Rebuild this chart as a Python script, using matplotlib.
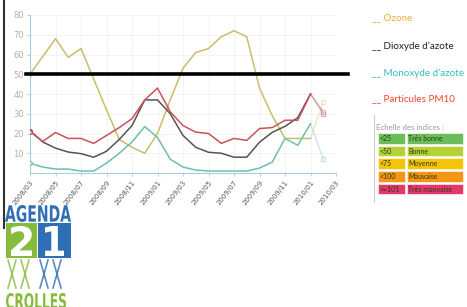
import matplotlib
matplotlib.use("Agg")
import matplotlib.pyplot as plt
from matplotlib.patches import Rectangle, PathPatch
from matplotlib.textpath import TextPath
from matplotlib.font_manager import FontProperties
from matplotlib.transforms import Affine2D

# ---------------- data ----------------
months = ["2008/03", "2008/04", "2008/05", "2008/06", "2008/07", "2008/08", "2008/09",
          "2008/10", "2008/11", "2008/12", "2009/01", "2009/02", "2009/03", "2009/04",
          "2009/05", "2009/06", "2009/07", "2009/08", "2009/09", "2009/10", "2009/11",
          "2009/12", "2010/01", "2010/02", "2010/03"]
tick_labels = months[::2]

ozone = [50, 59, 68, 58.5, 63, 47.5, 32, 17, 13, 10, 20, 37, 53, 61, 63, 69, 72, 69,
         43, 29, 17.5, 17.5, 17.5, 36]
no2 = [21.5, 15.7, 12.6, 10.6, 9.8, 8, 11, 17, 24, 37, 37, 30, 19, 13, 10.5, 10, 8, 8,
       15.6, 20.6, 23.6, 28, 40, 30]
no = [5, 3, 2, 2, 1, 1, 5, 10, 15.7, 23.5, 18, 7, 3, 1.5, 1, 1, 1, 1, 2.5, 5.5, 17.5,
      14, 25, 7]
pm10 = [21, 16, 20.5, 17.5, 17.5, 15, 19, 23, 27.5, 37, 43, 31, 24, 20.7, 20, 15, 17.5,
        16.5, 22.5, 23, 26.7, 26.7, 40, 31]

series_names = ["Ozone", "Dioxyde d\u2019azote", "Monoxyde d\u2019azote", "Particules PM10"]
series_values = [ozone, no2, no, pm10]
line_colors = ["#c9be6c", "#5a5252", "#6fc0a6", "#c9525c"]
legend_colors = ["#e3b43a", "#222222", "#35bfc0", "#f0462a"]

threshold = 50
y_ticks = [10, 20, 30, 40, 50, 60, 70, 80]

scale_limits = ["<25", "<50", "<75", "<100", ">=101"]
scale_labels = ["Tr\u00e8s bonne", "Bonne", "Moyenne", "Mauvaise", "Tr\u00e8s mauvaise"]
scale_colors = ["#6cbd5a", "#b4d236", "#f4c30a", "#f39516", "#e4386a"]

# ---------------- figure ----------------
W, H = 467, 307
fig = plt.figure(figsize=(W / 100, H / 100), dpi=100)
fig.patch.set_facecolor("white")

ax = fig.add_axes([30 / W, 1 - 173 / H, 306 / W, 158 / H])
ax.set_facecolor("none")
n_final = len(ozone) - 1  # last (partial) month drawn faded
x = list(range(len(ozone)))
for vals, col in zip(series_values, line_colors):
    ax.plot(x[:n_final], vals[:n_final], color=col, lw=1.1, zorder=3)
    ax.plot(x[n_final - 1:], vals[n_final - 1:], color=col, lw=1.0, alpha=0.35, zorder=3,
            marker="s", markersize=2.5, markerfacecolor="white", markevery=[1])
    ax.plot([x[0]], [vals[0]], marker="o", markersize=2.5, color=col,
            markerfacecolor="white", lw=0, zorder=4)

ax.axhline(threshold, xmin=-0.012, xmax=1.04, color="black", lw=2.6, clip_on=False, zorder=5)

ax.set_xlim(0, len(months) - 1)
ax.set_ylim(0, 80)
ax.set_xticks(range(0, len(months), 2))
ax.set_xticklabels(tick_labels, rotation=52, ha="right", rotation_mode="anchor",
                   fontsize=5, color="#555555")
ax.set_yticks(y_ticks)
ax.set_yticklabels([str(v) for v in y_ticks], fontsize=6, color="#b0b0b0")
ax.tick_params(axis="both", length=2.5, width=0.6, color="#a9cde0", pad=2)
ax.grid(True, color="#eeeeee", lw=0.5)
ax.set_axisbelow(True)
for s in ["top", "right"]:
    ax.spines[s].set_visible(False)
for s in ["left", "bottom"]:
    ax.spines[s].set_color("#a9cde0")
    ax.spines[s].set_linewidth(0.8)

# ---------------- overlay in pixel coordinates ----------------
ov = fig.add_axes([0, 0, 1, 1], zorder=10)
ov.set_xlim(0, W)
ov.set_ylim(H, 0)
ov.axis("off")
ov.patch.set_alpha(0)

# left dark frame line
ov.plot([4, 4], [0, 228], color="#333333", lw=1.5)

# legend
leg_y = [18, 46, 73, 99]
for name, col, yy in zip(series_names, legend_colors, leg_y):
    ov.text(372, yy, "__ " + name, color=col, fontsize=7.1, family="Lato",
            va="center", ha="left")

# scale table
ov.plot([374, 374], [115, 202], color="#cccccc", lw=0.8)
ov.text(376, 127, "Echelle des indices :", color="#9a9a9a", fontsize=5.6,
        family="Lato", va="center", ha="left")
row_top = 133
for i, (lim, lab, col) in enumerate(zip(scale_limits, scale_labels, scale_colors)):
    yy = row_top + i * 12.7
    ov.add_patch(Rectangle((377.5, yy), 27, 10.5, facecolor=col, edgecolor="white", lw=0.4))
    ov.add_patch(Rectangle((406.5, yy), 56, 10.5, facecolor=col, edgecolor="white", lw=0.4))
    ov.text(379, yy + 5.5, lim, color="#2a3a1a", fontsize=5, family="Lato", va="center")
    ov.text(408.5, yy + 5.5, lab, color="#2a3a1a", fontsize=5, family="Lato", va="center")


def path_text(s, x0, y0, w, h, color, weight="bold"):
    tp = TextPath((0, 0), s, size=1, prop=FontProperties(family="DejaVu Sans", weight=weight))
    ext = tp.get_extents()
    sx = w / ext.width
    sy = h / ext.height
    tr = (Affine2D().translate(-ext.x0, -ext.y0).scale(sx, -sy).translate(x0, y0 + h)
          + ov.transData)
    ov.add_patch(PathPatch(tp, transform=tr, facecolor=color, edgecolor="none"))


# logo AGENDA 21 CROLLES
blue = "#2f6fb5"
green = "#86bb3c"
path_text("AGENDA", 5, 205, 66, 17, blue)
ov.add_patch(Rectangle((6, 223), 31, 35, facecolor=green, edgecolor="none"))
ov.add_patch(Rectangle((38, 223), 33, 35, facecolor=blue, edgecolor="none"))
path_text("2", 11, 226, 21, 30, "white")
path_text("1", 45, 226, 19, 30, "white")
for cx, col in [(12, green), (25, green), (44, blue), (57, blue)]:
    ov.plot([cx - 4, cx + 4], [260, 288], color=col, lw=1.2, alpha=0.8)
    ov.plot([cx + 4, cx - 4], [260, 288], color=col, lw=1.2, alpha=0.8)
path_text("CROLLES", 6, 293, 60, 16, green)

fig.savefig("out.png", dpi=100)
